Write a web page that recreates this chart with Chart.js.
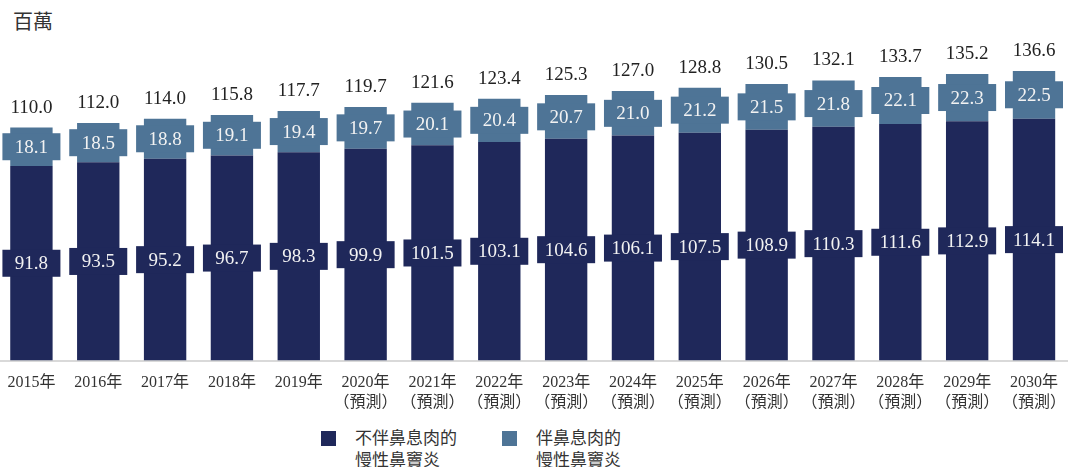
<!DOCTYPE html>
<html>
<head>
<meta charset="utf-8">
<script src="https://cdn.jsdelivr.net/npm/chart.js@4"></script>
<style>
    html, body { margin: 0; padding: 0; background: #fff; }
    body { width: 1068px; height: 467px; position: relative; overflow: hidden; font-family: 'Liberation Serif', 'Noto Sans CJK TC', serif; }
    #unit { position: absolute; left: 13px; top: 6px; font-size: 20px; color: #333; font-family: 'Noto Sans CJK TC', serif; }
    #wrap { position: absolute; left: -2px; top: 0; width: 1073px; height: 424px; }
    .legend { position: absolute; top: 426px; font-size: 17px; line-height: 22px; color: #333; font-family: 'Noto Sans CJK TC', sans-serif; }
    .legend .box { position: absolute; left: 0; top: 5px; width: 15px; height: 15px; }
    .legend .txt { position: absolute; left: 34px; top: 0; white-space: nowrap; }
</style>
</head>
<body>
<div id="unit">百萬</div>
<div id="wrap"><canvas id="chart"></canvas></div>
<div class="legend" style="left:321px"><div class="box" style="background:#1F285A"></div><div class="txt">不伴鼻息肉的<br>慢性鼻竇炎</div></div>
<div class="legend" style="left:502px"><div class="box" style="background:#4E7496"></div><div class="txt">伴鼻息肉的<br>慢性鼻竇炎</div></div>
<script>
// 年份（橫軸）
const YEARS = [
    '2015年', '2016年', '2017年', '2018年', '2019年',
    ['2020年', '（預測）'], ['2021年', '（預測）'], ['2022年', '（預測）'],
    ['2023年', '（預測）'], ['2024年', '（預測）'], ['2025年', '（預測）'],
    ['2026年', '（預測）'], ['2027年', '（預測）'], ['2028年', '（預測）'],
    ['2029年', '（預測）'], ['2030年', '（預測）']
];

// 不伴鼻息肉的慢性鼻竇炎
const WITHOUT_POLYPS = [91.8, 93.5, 95.2, 96.7, 98.3, 99.9, 101.5, 103.1, 104.6, 106.1, 107.5, 108.9, 110.3, 111.6, 112.9, 114.1];
// 伴鼻息肉的慢性鼻竇炎
const WITH_POLYPS = [18.1, 18.5, 18.8, 19.1, 19.4, 19.7, 20.1, 20.4, 20.7, 21.0, 21.2, 21.5, 21.8, 22.1, 22.3, 22.5];
// 合計
const TOTALS = [110.0, 112.0, 114.0, 115.8, 117.7, 119.7, 121.6, 123.4, 125.3, 127.0, 128.8, 130.5, 132.1, 133.7, 135.2, 136.6];

const COLORS = { dark: '#1F285A', light: '#4E7496', axis: '#D9D9D9', text: '#222222' };
const FONT_FAMILY = "'Liberation Serif', 'Noto Sans CJK TC', serif";

// 數值標籤：段內加底框、柱頂顯示合計
const valueLabels = {
    id: 'valueLabels',
    afterDatasetsDraw(chart) {
        const ctx = chart.ctx;
        ctx.save();
        ctx.font = '19px ' + FONT_FAMILY;
        ctx.textAlign = 'center';
        ctx.textBaseline = 'middle';
        chart.data.datasets.forEach((ds, di) => {
            const meta = chart.getDatasetMeta(di);
            meta.data.forEach((bar, i) => {
                const p = bar.getProps(['x', 'y', 'base'], true);
                const cy = (p.y + p.base) / 2;
                ctx.fillStyle = ds.backgroundColor;
                ctx.fillRect(p.x - 29, cy - 13.5, 58, 27);
                ctx.fillStyle = '#F2F2F2';
                ctx.fillText(ds.data[i].toFixed(1), p.x, cy + 1);
            });
        });
        const top = chart.getDatasetMeta(1);
        ctx.fillStyle = COLORS.text;
        top.data.forEach((bar, i) => {
            const p = bar.getProps(['x', 'y'], true);
            ctx.fillText(TOTALS[i].toFixed(1), p.x, p.y - 20);
        });
        ctx.restore();
    }
};

function initializeChart() {
    const ctx = document.getElementById('chart');
    new Chart(ctx, {
        type: 'bar',
        data: {
            labels: YEARS,
            datasets: [
                { label: '不伴鼻息肉的慢性鼻竇炎', data: WITHOUT_POLYPS, backgroundColor: COLORS.dark },
                { label: '伴鼻息肉的慢性鼻竇炎', data: WITH_POLYPS, backgroundColor: COLORS.light }
            ]
        },
        options: {
            responsive: true,
            maintainAspectRatio: false,
            animation: false,
            barPercentage: 0.634,
            categoryPercentage: 1,
            layout: { padding: { top: 42.5, bottom: 7, left: 0, right: 0 } },
            plugins: { legend: { display: false }, tooltip: { enabled: false } },
            scales: {
                x: {
                    stacked: true,
                    grid: { display: false },
                    border: { display: true, color: COLORS.axis, width: 2 },
                    ticks: { color: '#333', padding: 5, maxRotation: 0, autoSkip: false, font: { family: FONT_FAMILY, size: 16, lineHeight: 1.2 } }
                },
                y: { stacked: true, display: false, min: 0, max: 150 }
            }
        },
        plugins: [valueLabels]
    });
}

initializeChart();
</script>
</body>
</html>
